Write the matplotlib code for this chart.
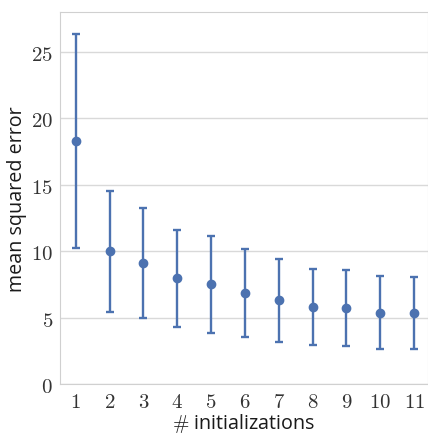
import matplotlib
matplotlib.use('Agg')
import matplotlib.pyplot as plt
import seaborn as sns
import numpy as np

sns.set_style('whitegrid')
plt.rcParams['font.family'] = ['Open Sans', 'DejaVu Sans']
plt.rcParams['mathtext.fontset'] = 'cm'

# number of initializations and the error summary
inits = [1, 2, 3, 4, 5, 6, 7, 8, 9, 10, 11]
mse_mean = [18.3, 10.0, 9.1, 7.95, 7.5, 6.85, 6.3, 5.8, 5.75, 5.37, 5.35]
mse_low = [10.2, 5.42, 5.0, 4.28, 3.86, 3.5, 3.19, 2.91, 2.86, 2.64, 2.64]
mse_high = [26.35, 14.53, 13.25, 11.6, 11.15, 10.19, 9.44, 8.68, 8.61, 8.16, 8.06]

x = np.array(inits)
m = np.array(mse_mean)
yerr = [m - np.array(mse_low), np.array(mse_high) - m]

f = plt.figure(figsize=(4.28, 4.35), dpi=100)
ax = f.add_axes([0.140, 0.115, 0.86, 0.855])

ax.errorbar(x, m, yerr=yerr, fmt='o', color='#4C72B0', ecolor='#4C72B0',
            elinewidth=1.7, capsize=2.6, capthick=1.7, markersize=6)

ax.set_xlim(0.53, 11.41)
ax.set_ylim(0, 28)
ax.grid(axis='x', visible=False)
ax.grid(axis='y', color='#d9d9d9', linewidth=1.0)
for s in ax.spines.values():
    s.set_color('#d0d0d0')

ax.set_xticks(inits)
ax.set_xticklabels(['$%d$' % i for i in inits], fontsize=15, color='#333333')
ax.set_yticks([0, 5, 10, 15, 20, 25])
ax.set_yticklabels(['$%d$' % v for v in [0, 5, 10, 15, 20, 25]], fontsize=15, color='#333333')
ax.tick_params(length=0, pad=5)

ax.set_xlabel(r'$\#$ initializations', fontsize=14.2, color='#1a1a1a', labelpad=-1)
ax.set_ylabel('mean squared error', fontsize=14.2, color='#1a1a1a', labelpad=3)

f.savefig('out.png', dpi=100)
